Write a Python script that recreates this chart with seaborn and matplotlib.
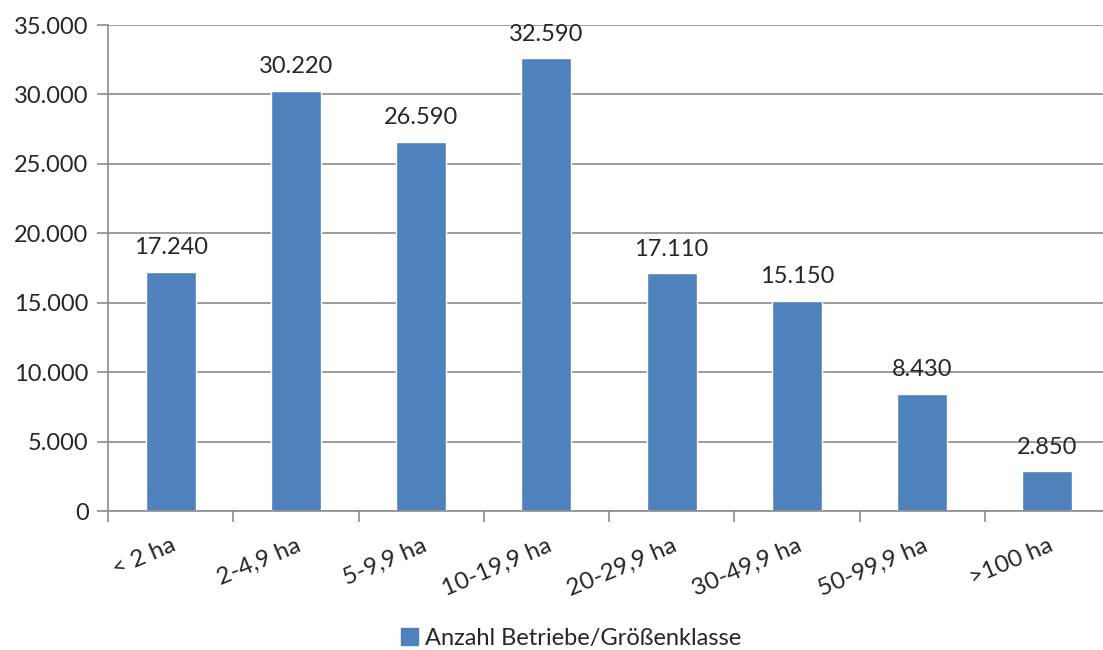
import matplotlib
matplotlib.use("Agg")
import matplotlib.pyplot as plt
import seaborn as sns
import pandas as pd
from matplotlib.patches import Patch
from matplotlib.ticker import FuncFormatter, FixedLocator

categories = ["< 2 ha", "2-4,9 ha", "5-9,9 ha", "10-19,9 ha", "20-29,9 ha", "30-49,9 ha", "50-99,9 ha", ">100 ha"]
values = [17240, 30220, 26590, 32590, 17110, 15150, 8430, 2850]
series_name = "Anzahl Betriebe/Größenklasse"
yticks = [0, 5000, 10000, 15000, 20000, 25000, 30000, 35000]

sns.set_theme(style="white")
plt.rcParams['font.family'] = ['Lato', 'DejaVu Sans']

def fmt(v):
    return f"{int(v):,}".replace(",", ".")

df = pd.DataFrame({"cat": categories, "val": values})

fig = plt.figure(figsize=(11.03, 6.5), dpi=100)
ax = fig.add_axes([108/1103, 1-511/650, (1110-108)/1103, (511-25)/650])
color = "#4F81BD"
sns.barplot(data=df, x="cat", y="val", color=color, width=0.4, saturation=1, ax=ax)

ax.set_ylim(0, 35000)
ax.set_xlim(-0.5, len(categories)-0.5)
ax.set_yticks(yticks)
ax.yaxis.set_major_formatter(FuncFormatter(lambda v, p: fmt(v)))
ax.grid(axis="y", color="#8c8c8c", linewidth=1.2)
ax.set_axisbelow(True)
for s in ["top", "right"]:
    ax.spines[s].set_visible(False)
for s in ["left", "bottom"]:
    ax.spines[s].set_color("#8c8c8c")
    ax.spines[s].set_linewidth(1.2)

ax.tick_params(axis="y", length=8, width=1.2, color="#8c8c8c", labelsize=17, pad=6, left=True)
ax.set_xticks(range(len(categories)))
ax.set_xticklabels(categories, rotation=23, ha="right", rotation_mode="anchor", fontsize=17.5)
ax.tick_params(axis="x", length=0, pad=17)
ax.xaxis.set_minor_locator(FixedLocator([i + 0.5 for i in range(-1, len(categories))]))
ax.tick_params(axis="x", which="minor", length=8, width=1.2, color="#8c8c8c", bottom=True)

ax.set_xlabel("")
ax.set_ylabel("")

for i, v in enumerate(values):
    ax.annotate(fmt(v), (i, v), xytext=(0, 10), textcoords="offset points",
                ha="center", va="bottom", fontsize=17)

handle = Patch(facecolor=color, edgecolor=color)
fig.legend([handle], [series_name], loc="center", bbox_to_anchor=(571/1103, 1-638/650),
           frameon=False, fontsize=17, handlelength=0.7, handleheight=0.7, handletextpad=0.3)

fig.savefig("out.png", dpi=100)
